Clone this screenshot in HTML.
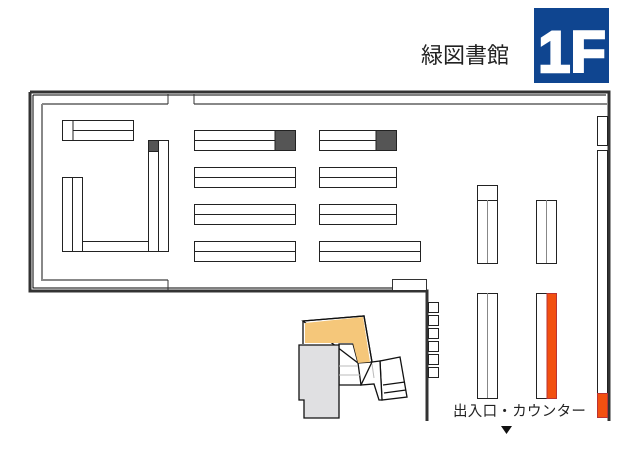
<!DOCTYPE html>
<html><head><meta charset="utf-8"><style>
html,body{margin:0;padding:0;background:#fff;}
svg{display:block;}
</style></head><body>
<svg width="640" height="452" viewBox="0 0 640 452" xmlns="http://www.w3.org/2000/svg">
<rect width="640" height="452" fill="#fff"/>
<!-- header -->
<text x="421" y="63" font-family="Liberation Sans, Noto Sans CJK JP, sans-serif" font-size="22" fill="#222">緑図書館</text>
<rect x="534" y="8" width="75" height="75" fill="#0f4590"/>
<text x="572" y="72" text-anchor="middle" font-family="Liberation Sans, sans-serif" font-weight="bold" font-size="58" fill="#fff" stroke="#fff" stroke-width="2.5">1F</text>
<!-- outer walls -->
<g fill="none" stroke="#333" stroke-width="3">
<polyline points="30,92 609,92 609,421"/>
<polyline points="30,92 30,291 427,291 427,421"/>
</g>
<g fill="none" stroke="#000" stroke-width="1">
<polyline points="33,95 606,95"/>
<polyline points="33,95 33,288 424,288"/>
</g>
<!-- inner gray walls -->
<g fill="none" stroke="#888" stroke-width="2">
<polyline points="42,104 168,104"/>
<polyline points="42,104 42,280 168,280"/>
<polyline points="194,104 607,104"/>
</g>
<g fill="none" stroke="#333" stroke-width="1">
<line x1="168" y1="94" x2="168" y2="104"/>
<line x1="168" y1="280" x2="168" y2="290"/>
<line x1="194" y1="94" x2="194" y2="104"/>
<rect x="392.5" y="279.5" width="34" height="11" fill="#fff"/>
</g>
<!-- left shelves -->
<g fill="#fff" stroke="#222" stroke-width="1">
<rect x="62.5" y="120.5" width="71" height="20"/>
<line x1="73" y1="120" x2="73" y2="140"/>
<line x1="73" y1="130.5" x2="133" y2="130.5"/>
<rect x="148.5" y="140.5" width="20" height="111"/>
<line x1="158.5" y1="140" x2="158.5" y2="251"/>
<rect x="148.5" y="140.5" width="10" height="11" fill="#555"/>
<rect x="62.5" y="177.5" width="20" height="74"/>
<line x1="72.5" y1="177" x2="72.5" y2="251"/>
<rect x="82.5" y="241.5" width="66" height="10"/>
</g>
<!-- middle shelves -->
<g fill="#fff" stroke="#222" stroke-width="1">
<rect x="194.5" y="130.5" width="101" height="20"/><line x1="194" y1="140.5" x2="275" y2="140.5"/>
<rect x="275" y="130.5" width="20.5" height="20" fill="#555"/>
<rect x="194.5" y="167.5" width="101" height="20"/><line x1="194" y1="177.5" x2="295" y2="177.5"/>
<rect x="194.5" y="204.5" width="101" height="20"/><line x1="194" y1="214.5" x2="295" y2="214.5"/>
<rect x="194.5" y="241.5" width="101" height="20"/><line x1="194" y1="251.5" x2="295" y2="251.5"/>
<rect x="319.5" y="130.5" width="77" height="20"/><line x1="319" y1="140.5" x2="376" y2="140.5"/>
<rect x="376" y="130.5" width="20.5" height="20" fill="#555"/>
<rect x="319.5" y="167.5" width="77" height="20"/><line x1="319" y1="177.5" x2="396" y2="177.5"/>
<rect x="319.5" y="204.5" width="77" height="20"/><line x1="319" y1="214.5" x2="396" y2="214.5"/>
<rect x="319.5" y="241.5" width="101" height="20"/><line x1="319" y1="251.5" x2="420" y2="251.5"/>
</g>
<!-- right shelves -->
<g fill="#fff" stroke="#222" stroke-width="1">
<rect x="477.5" y="185.5" width="20" height="15"/>
<rect x="477.5" y="200.5" width="20" height="63"/>
<line x1="487.5" y1="200" x2="487.5" y2="263" stroke="#888"/>
<rect x="536.5" y="200.5" width="20" height="63"/>
<line x1="546.5" y1="200" x2="546.5" y2="263" stroke="#888"/>
<rect x="477.5" y="293.5" width="20" height="105"/>
<line x1="487.5" y1="293" x2="487.5" y2="398" stroke="#888"/>
<rect x="536.5" y="293.5" width="20" height="105"/>
<rect x="547" y="293.5" width="9.5" height="105" fill="#f25010" stroke="#b33"/>
<rect x="597.5" y="116.5" width="10" height="29"/>
<rect x="597.5" y="150.5" width="10" height="267"/>
<rect x="597.5" y="393.5" width="10" height="24" fill="#f25010" stroke="#b33"/>
</g>
<!-- small boxes -->
<g fill="#fff" stroke="#222" stroke-width="1">
<rect x="428.5" y="302.5" width="10" height="10"/>
<rect x="428.5" y="315.5" width="10" height="10"/>
<rect x="428.5" y="328.5" width="10" height="10"/>
<rect x="428.5" y="341.5" width="10" height="10"/>
<rect x="428.5" y="354.5" width="10" height="10"/>
<rect x="428.5" y="367.5" width="10" height="10"/>
</g>
<!-- building -->
<g stroke="#111" stroke-width="1.3">
<polygon points="303,321 364,316 372,362 358,363 353,344 339,344 339,385 361,385 358,363" fill="#fff"/>
<polygon points="305,323 363,317 370,362 358,363 353,343 305,343" fill="#f5c77a" stroke="none"/>
<polyline points="303,321 364,316 372,362" fill="none"/>
<polyline points="303,321 303,344" fill="none"/>
<polygon points="380,361 400,357 407,397 382,400" fill="#fff"/>
<polygon points="372,362 380,361 382,400 379,400 374,384 361,385" fill="#fff"/>
<line x1="383" y1="385" x2="405" y2="382"/>
<line x1="384" y1="393" x2="406" y2="390"/>
<polygon points="299,345 339,345 339,418 304,418 304,400 299,400" fill="#e0e0e2"/>
</g>
<g stroke="#bbb" stroke-width="1">
<line x1="339" y1="366" x2="358" y2="366"/>
<line x1="339" y1="375" x2="360" y2="375"/>
<line x1="372" y1="364" x2="374" y2="378"/>
</g>
<!-- label -->
<text x="453" y="416" font-family="Liberation Sans, Noto Sans CJK JP, sans-serif" font-size="14.5" letter-spacing="0.3" fill="#222">出入口・カウンター</text>
<polygon points="501,426 512,426 506.5,434" fill="#111"/>
</svg>
</body></html>
